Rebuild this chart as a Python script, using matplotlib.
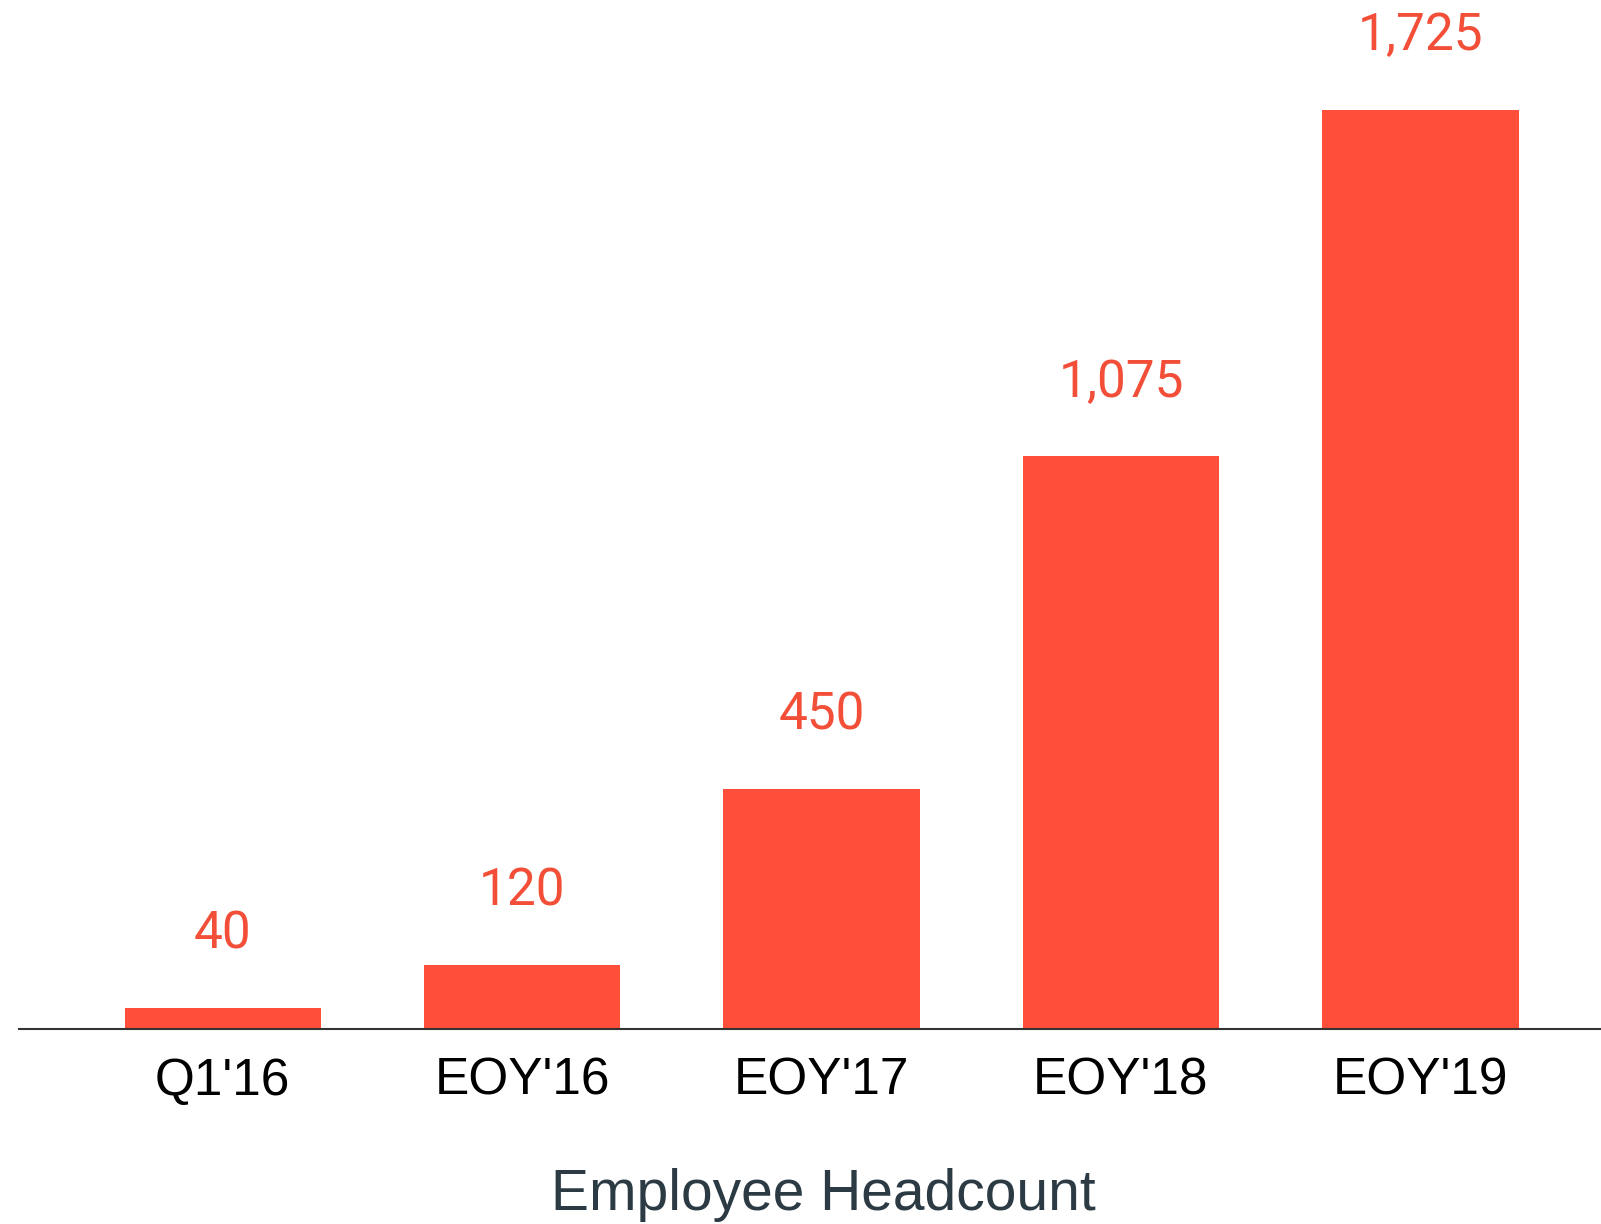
import matplotlib
matplotlib.use("Agg")
import matplotlib.pyplot as plt

categories = ["Q1'16", "EOY'16", "EOY'17", "EOY'18", "EOY'19"]
headcount = [40, 120, 450, 1075, 1725]
value_labels = ["40", "120", "450", "1,075", "1,725"]

bar_color = "#FF4F3A"
label_color = "#F24E38"

fig = plt.figure(figsize=(16.01, 12.24), dpi=100)
ax = fig.add_axes([19 / 1601, 195 / 1224, 1 - 19 / 1601, 1 - 195 / 1224])

x = range(len(categories))
bars = ax.bar(x, headcount, width=0.655, color=bar_color)

for b, txt in zip(bars, value_labels):
    ax.annotate(txt, (b.get_x() + b.get_width() / 2, b.get_height()),
                xytext=(0, 35), textcoords="offset points",
                ha="center", va="bottom", color=label_color,
                fontsize=37, family="Roboto")

ax.set_xlim(-0.68, 4.603)
ax.set_ylim(0, 1931.5)
ax.set_xticks(list(x))
ax.set_xticklabels(categories, fontsize=37, family="Liberation Sans", color="black")
ax.tick_params(axis="x", length=0, pad=20)
ax.set_yticks([])
for s in ["top", "right", "left"]:
    ax.spines[s].set_visible(False)
ax.spines["bottom"].set_color("#333333")
ax.spines["bottom"].set_linewidth(1.5)

fig.text(823 / 1601, 1 - 1195 / 1224, "Employee Headcount", ha="center", va="center",
         fontsize=41, family="Liberation Sans", color="#2C3A44")

fig.savefig("out.png", dpi=100, facecolor="white")
